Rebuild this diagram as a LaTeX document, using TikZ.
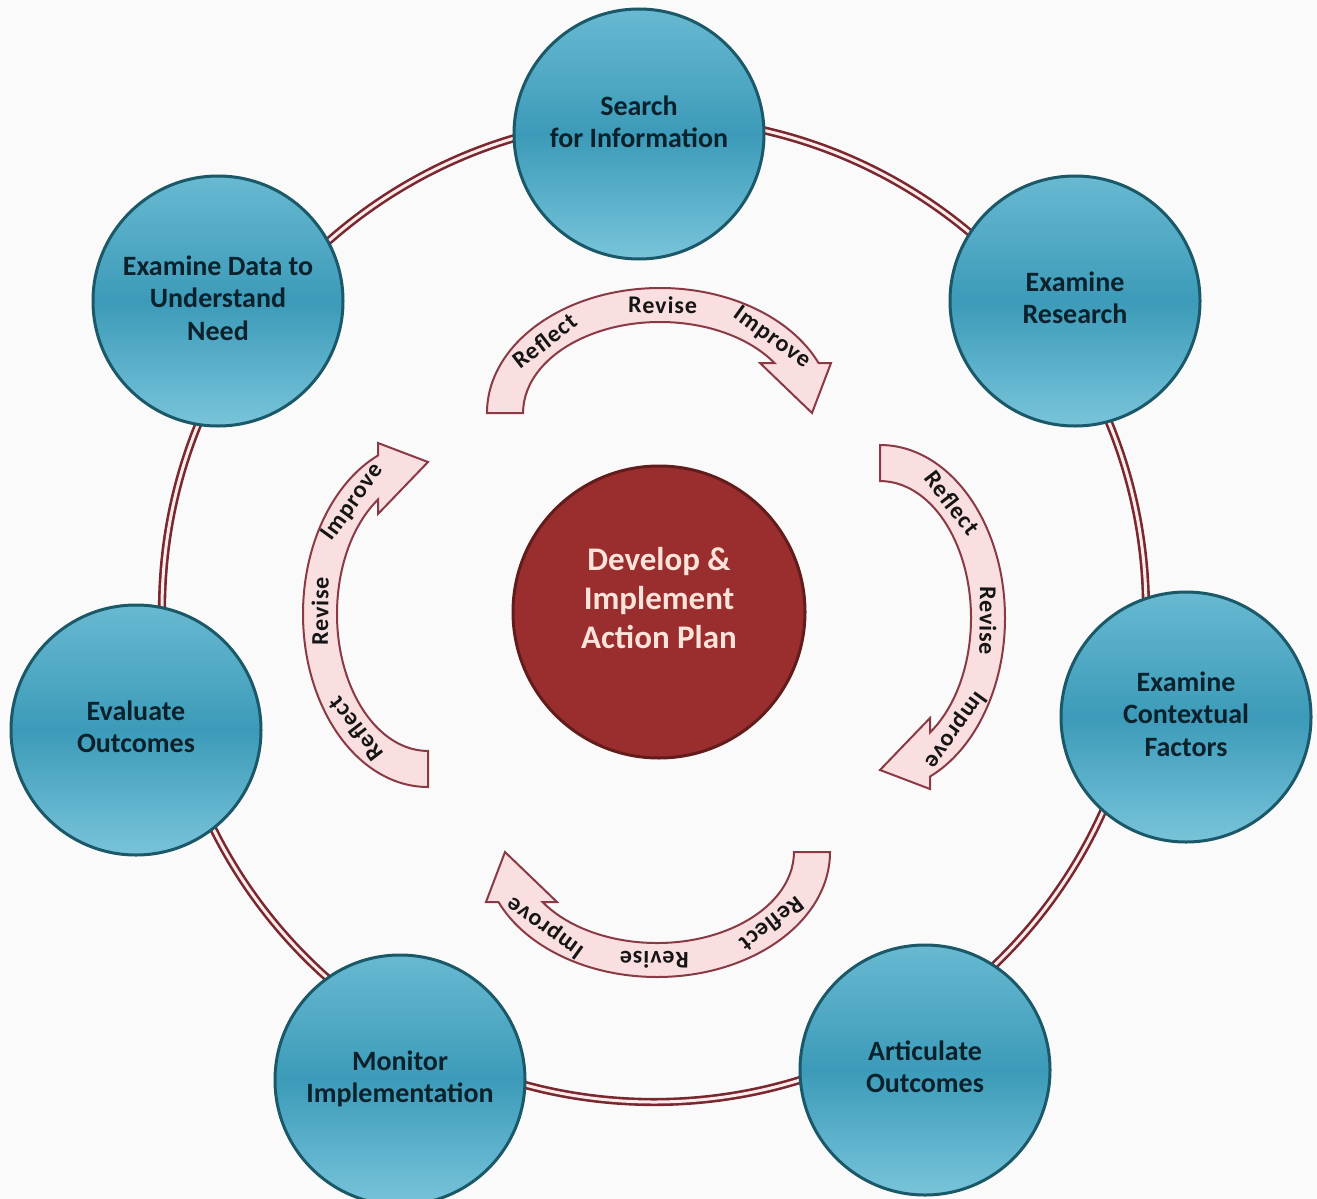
\documentclass[tikz,border=0pt]{standalone}
\usepackage{fontspec}
\setmainfont{Carlito}
\definecolor{paper}{HTML}{FAFAFA}
\definecolor{ringred}{HTML}{7A2830}
\definecolor{ringcore}{HTML}{FBEAEA}
\definecolor{stageedge}{HTML}{1B5868}
\definecolor{stagetop}{HTML}{68B9D1}
\definecolor{stagemid}{HTML}{3C9BB9}
\definecolor{stagebottom}{HTML}{78C4DA}
\definecolor{stagetext}{HTML}{0B222C}
\definecolor{hubfill}{HTML}{9A2E2E}
\definecolor{hubedge}{HTML}{631C1C}
\definecolor{hubtext}{HTML}{FBE3DA}
\definecolor{bandedge}{HTML}{8A3A44}
\definecolor{bandfill}{HTML}{FADFE0}
\definecolor{wordtext}{HTML}{151515}

% multi-line label, lifted by #1 without changing the box size
\newcommand\stagelines[2]{\raisebox{#1}[\height][\depth]{\begin{tabular}{@{}c@{}}#2\end{tabular}}}

% one curved "Reflect / Revise / Improve" arrow: centre x, centre y, rotation, name
\newcommand\cyclearrow[4]{%
  \begin{scope}[shift={(#1,#2)}, rotate=#3]
    \draw[band] (-173,0)
      arc[start angle=180, end angle=23.58, x radius=173, y radius=125]
      -- (171,50) -- (152,0) -- (100,50) -- (114.5,50)
      arc[start angle=33.33, end angle=180, x radius=137, y radius=91]
      -- cycle;
    \foreach \w/\ang in {Reflect/138, Revise/89, Improve/44}
      \node[word, transform shape, rotate={atan2(-108*cos(\ang),155*sin(\ang))}]
        (#4-\w) at ({155*cos(\ang)},{108*sin(\ang)}) {\w};
  \end{scope}}

\begin{document}
\begin{tikzpicture}[x=1pt, y=1pt,
  ring/.style={draw=ringred, line width=2.6pt, double=ringcore, double distance=3pt},
  stage/.style={circle, draw=stageedge, line width=3pt, minimum size=250pt, inner sep=0pt,
    top color=stagetop, bottom color=stagebottom, middle color=stagemid,
    text=stagetext, font=\fontsize{28}{32.5}\selectfont\bfseries},
  hub/.style={circle, draw=hubedge, line width=3pt, fill=hubfill, minimum size=292pt,
    inner sep=0pt, text=hubtext, font=\fontsize{33}{39}\selectfont\bfseries},
  band/.style={draw=bandedge, line width=2pt, fill=bandfill, line join=miter},
  word/.style={font=\fontsize{24}{26}\selectfont\bfseries\addfontfeatures{LetterSpace=4},
    text=wordtext, inner sep=0pt}
]
\useasboundingbox (0,0) rectangle (1317,-1199);
\fill[paper] (0,0) rectangle (1317,-1199);

% outer cycle
\draw[ring] (654,-610) circle[radius=492];

% stages on the cycle
\node[stage] (search)     at (639,-134)  {\stagelines{9pt}{Search\\for Information}};
\node[stage] (research)   at (1075,-301) {\stagelines{0pt}{Examine\\Research}};
\node[stage] (context)    at (1186,-717) {\stagelines{0pt}{Examine\\Contextual\\Factors}};
\node[stage] (articulate) at (925,-1070) {\stagelines{0pt}{Articulate\\Outcomes}};
\node[stage] (monitor)    at (400,-1080) {\stagelines{0pt}{Monitor\\Implementation}};
\node[stage] (evaluate)   at (136,-730)  {\stagelines{0pt}{Evaluate\\Outcomes}};
\node[stage] (data)       at (218,-301)  {\stagelines{0pt}{Examine Data to\\Understand\\Need}};

% inner reflect / revise / improve arrows
\cyclearrow{660}{-413}{0}{atop}
\cyclearrow{880}{-618}{-90}{aright}
\cyclearrow{657}{-852}{180}{abottom}
\cyclearrow{428}{-614}{90}{aleft}

% central action plan
\node[hub] (plan) at (659,-612) {\stagelines{10pt}{Develop \&\\Implement\\Action Plan}};
\end{tikzpicture}
\end{document}
